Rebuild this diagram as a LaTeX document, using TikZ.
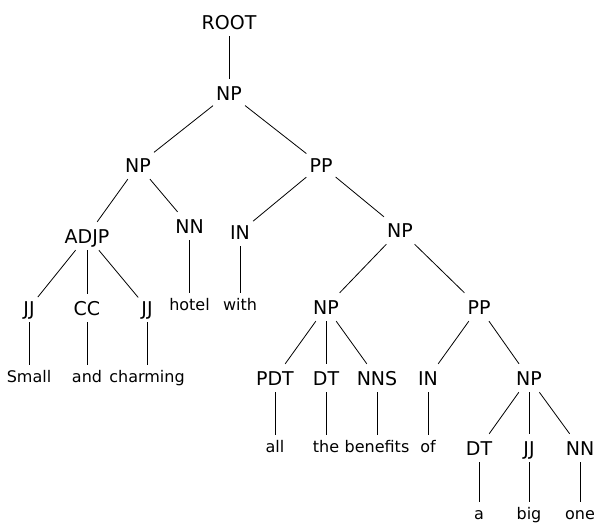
\documentclass[tikz,border=0pt]{standalone}
\usepackage{fontspec}
\setmainfont{DejaVu Sans}
\tikzstyle{phrase}=[anchor=base, font=\fontsize{19}{19}\selectfont, text height=14pt, text depth=0pt, inner xsep=3pt, inner ysep=7pt]
\tikzstyle{word}=[anchor=base, font=\fontsize{16}{16}\selectfont, text height=12pt, text depth=0pt, inner xsep=3pt, inner ysep=5pt]
\tikzstyle{branch}=[line width=0.8pt]

\begin{document}
\begin{tikzpicture}[x=1pt, y=-1pt]
      \useasboundingbox (0, 0) rectangle (596, 525);
      % phrase labels
      \node[phrase] (root) at (229, 29) {ROOT};
      \node[phrase] (np0) at (229, 100) {NP};
      \node[phrase] (np1) at (138, 172) {NP};
      \node[phrase] (pp1) at (321, 172) {PP};
      \node[phrase] (adjp) at (87, 243) {ADJP};
      \node[phrase] (nn1) at (189.5, 233) {NN};
      \node[phrase] (in1) at (240, 239) {IN};
      \node[phrase] (np2) at (400, 237) {NP};
      \node[phrase] (jj1) at (29, 315) {JJ};
      \node[phrase] (cc) at (87, 315) {CC};
      \node[phrase] (jj2) at (147, 315) {JJ};
      \node[phrase] (np3) at (326, 314) {NP};
      \node[phrase] (pp2) at (479, 314) {PP};
      \node[phrase] (pdt) at (275, 385) {PDT};
      \node[phrase] (dt1) at (326, 385) {DT};
      \node[phrase] (nns) at (377, 385) {NNS};
      \node[phrase] (in2) at (428, 385) {IN};
      \node[phrase] (np4) at (529, 385) {NP};
      \node[phrase] (dt2) at (479, 455) {DT};
      \node[phrase] (jj3) at (529, 455) {JJ};
      \node[phrase] (nn2) at (580, 455) {NN};
      % words
      \node[word] (hotel) at (189.5, 310) {hotel};
      \node[word] (with) at (240, 310) {with};
      \node[word] (small) at (29, 382) {Small};
      \node[word] (and) at (87, 382) {and};
      \node[word] (charming) at (147, 382) {charming};
      \node[word] (all) at (275, 452) {all};
      \node[word] (the) at (326, 452) {the};
      \node[word] (benefits) at (377, 452) {benefits};
      \node[word] (of) at (428, 452) {of};
      \node[word] (a) at (479, 519) {a};
      \node[word] (big) at (529, 519) {big};
      \node[word] (one) at (580, 519) {one};
      % branches
      \draw[branch] (root) to (np0);
      \draw[branch] (np0) to (np1);
      \draw[branch] (np0) to (pp1);
      \draw[branch] (np1) to (adjp);
      \draw[branch] (np1) to (nn1);
      \draw[branch] (pp1) to (in1);
      \draw[branch] (pp1) to (np2);
      \draw[branch] (adjp) to (jj1);
      \draw[branch] (adjp) to (cc);
      \draw[branch] (adjp) to (jj2);
      \draw[branch] (np2) to (np3);
      \draw[branch] (np2) to (pp2);
      \draw[branch] (np3) to (pdt);
      \draw[branch] (np3) to (dt1);
      \draw[branch] (np3) to (nns);
      \draw[branch] (pp2) to (in2);
      \draw[branch] (pp2) to (np4);
      \draw[branch] (np4) to (dt2);
      \draw[branch] (np4) to (jj3);
      \draw[branch] (np4) to (nn2);
      \draw[branch] (nn1) to (hotel);
      \draw[branch] (in1) to (with);
      \draw[branch] (jj1) to (small);
      \draw[branch] (cc) to (and);
      \draw[branch] (jj2) to (charming);
      \draw[branch] (pdt) to (all);
      \draw[branch] (dt1) to (the);
      \draw[branch] (nns) to (benefits);
      \draw[branch] (in2) to (of);
      \draw[branch] (dt2) to (a);
      \draw[branch] (jj3) to (big);
      \draw[branch] (nn2) to (one);
    \end{tikzpicture}
\end{document}
